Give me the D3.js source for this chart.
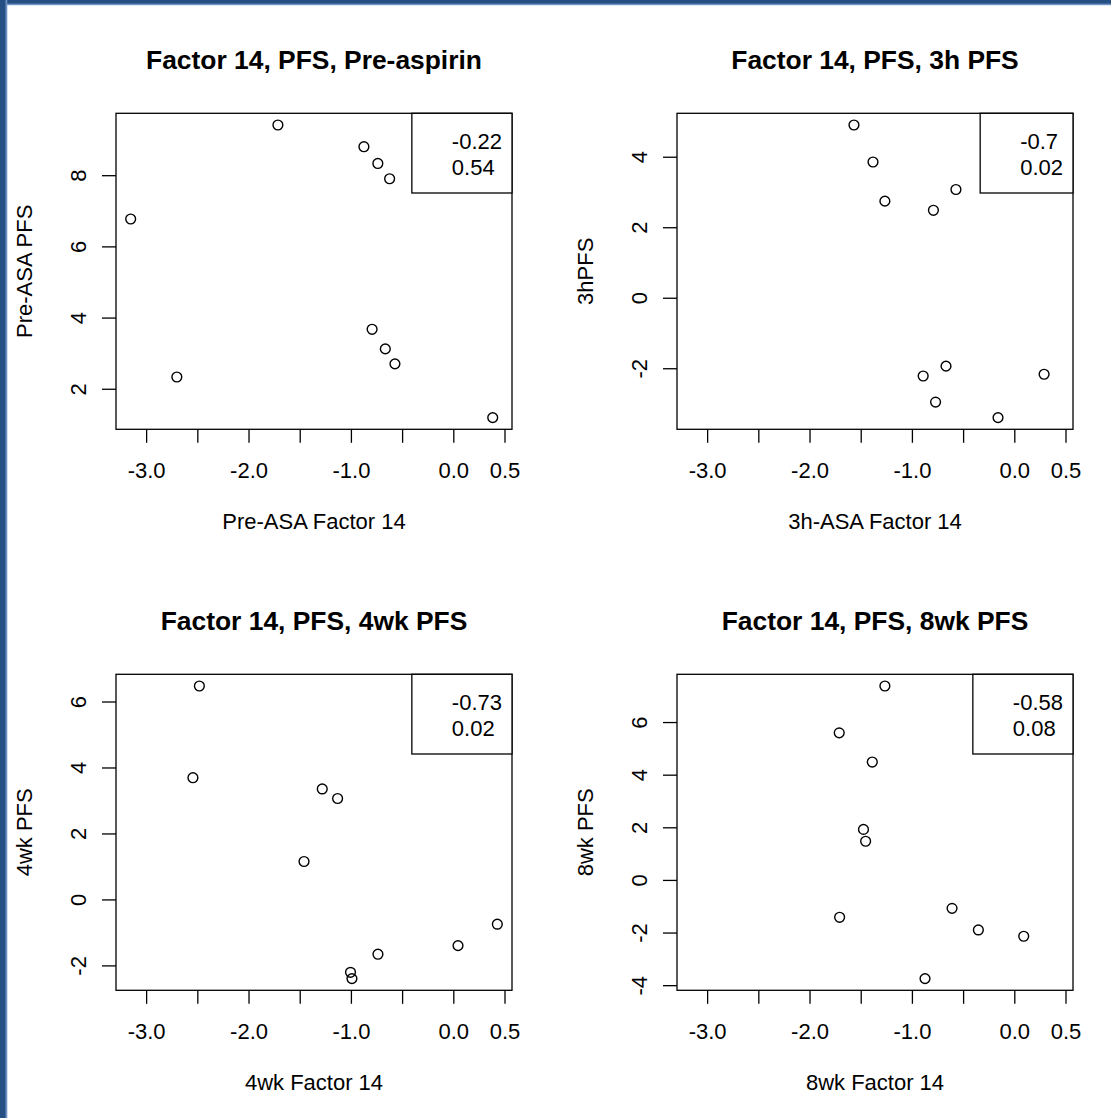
<!DOCTYPE html>
<html>
<head>
<meta charset="utf-8">
<script src="https://cdn.jsdelivr.net/npm/d3@7"></script>
<style>
  html, body { margin: 0; padding: 0; background: #fff; overflow: hidden; }
  text { font-family: "Liberation Sans", Arial, Helvetica, sans-serif; fill: #000; }
</style>
</head>
<body>
<svg id="chart" width="1111" height="1118"></svg>
<script>
// Factor 14 scores and PFS at each time point (one entry per subject)
const factorPre = [-3.151, -2.700, -1.713, -0.873, -0.737, -0.622, -0.793, -0.664, -0.570, 0.385];
const pfsPre    = [6.77, 2.33, 9.41, 8.80, 8.33, 7.90, 3.67, 3.12, 2.70, 1.19];
const factor3h  = [-1.566, -1.380, -1.264, -0.790, -0.570, -0.890, -0.667, -0.769, -0.159, 0.291];
const pfs3h     = [4.90, 3.85, 2.74, 2.48, 3.07, -2.22, -1.94, -2.96, -3.40, -2.17];
const factor4wk = [-2.480, -2.543, -1.280, -1.130, -1.458, -1.004, -0.990, -0.736, 0.046, 0.430];
const pfs4wk    = [6.47, 3.69, 3.35, 3.06, 1.15, -2.21, -2.40, -1.66, -1.40, -0.75];
const factor8wk = [-1.264, -1.710, -1.387, -1.473, -1.452, -1.706, -0.608, -0.351, 0.092, -0.872];
const pfs8wk    = [7.37, 5.59, 4.48, 1.92, 1.47, -1.42, -1.08, -1.90, -2.14, -3.75];

// Panel texts
const titles  = ["Factor 14, PFS, Pre-aspirin", "Factor 14, PFS, 3h PFS", "Factor 14, PFS, 4wk PFS", "Factor 14, PFS, 8wk PFS"];
const xTitles = ["Pre-ASA Factor 14", "3h-ASA Factor 14", "4wk Factor 14", "8wk Factor 14"];
const yTitles = ["Pre-ASA PFS", "3hPFS", "4wk PFS", "8wk PFS"];
const corrText = ["-0.22", "-0.7", "-0.73", "-0.58"];
const pText    = ["0.54", "0.02", "0.02", "0.08"];

// Tick values and labels
const xTicks = [-3, -2.5, -2, -1.5, -1, -0.5, 0, 0.5];
const xTickLabels = ["-3.0", "", "-2.0", "", "-1.0", "", "0.0", "0.5"];
const yTicks = [[2, 4, 6, 8], [-2, 0, 2, 4], [-2, 0, 2, 4, 6], [-4, -2, 0, 2, 4, 6]];

const xsets = [factorPre, factor3h, factor4wk, factor8wk];
const ysets = [pfsPre, pfs3h, pfs4wk, pfs8wk];

// Layout
const colX = [116, 677];
const rowY = [113.3, 674.3];
const plotW = 396, plotH = 316;
const lw = 1.3;
const fontSize = 22;

const svg = d3.select("#chart");

// Slide frame strips
svg.append("rect").attr("x", 0).attr("y", 0).attr("width", 1111).attr("height", 5.2).attr("fill", "#6d93c6");
svg.append("rect").attr("x", 0).attr("y", 0).attr("width", 1111).attr("height", 3.6).attr("fill", "#264f84");
svg.append("rect").attr("x", 0).attr("y", 0).attr("width", 7.3).attr("height", 1118).attr("fill", "#6d93c6");
svg.append("rect").attr("x", 0).attr("y", 0).attr("width", 5.5).attr("height", 1118).attr("fill", "#264f84");

// Axis range with 4% padding on each side
function padded(values) {
  const [lo, hi] = d3.extent(values);
  const d = (hi - lo) * 0.04;
  return [lo - d, hi + d];
}
const xDomain = padded([].concat(...xsets));

titles.forEach((title, i) => {
  const left = colX[i % 2];
  const top = rowY[Math.floor(i / 2)];
  const g = svg.append("g").attr("transform", `translate(${left},${top})`);

  const x = d3.scaleLinear().domain(xDomain).range([0, plotW]);
  const y = d3.scaleLinear().domain(padded(ysets[i])).range([plotH, 0]);

  // Bottom axis
  const xAxis = g.append("g")
    .attr("transform", `translate(0,${plotH})`)
    .call(d3.axisBottom(x).tickValues(xTicks).tickSize(13.5).tickSizeOuter(0)
      .tickFormat((d, k) => xTickLabels[k]));
  xAxis.select(".domain").remove();
  xAxis.selectAll(".tick line").attr("stroke", "#000").attr("stroke-width", lw);
  xAxis.selectAll(".tick text")
    .attr("y", 49).attr("dy", null)
    .attr("font-size", fontSize).attr("font-family", null);

  // Left axis with labels parallel to the axis (plain hyphen for negatives)
  const yAxis = g.append("g")
    .call(d3.axisLeft(y).tickValues(yTicks[i]).tickSize(14).tickSizeOuter(0).tickFormat(d => String(d)));
  yAxis.select(".domain").remove();
  yAxis.selectAll(".tick line").attr("stroke", "#000").attr("stroke-width", lw);
  yAxis.selectAll(".tick text")
    .attr("x", null).attr("dy", null)
    .attr("transform", "translate(-30,0) rotate(-90)")
    .attr("text-anchor", "middle")
    .attr("font-size", fontSize).attr("font-family", null);

  // Plot frame
  g.append("rect")
    .attr("x", 0).attr("y", 0).attr("width", plotW).attr("height", plotH)
    .attr("fill", "none").attr("stroke", "#000").attr("stroke-width", lw);

  // Points
  g.append("g").selectAll("circle")
    .data(xsets[i].map((v, k) => [v, ysets[i][k]]))
    .join("circle")
    .attr("cx", d => x(d[0]))
    .attr("cy", d => y(d[1]))
    .attr("r", 4.9)
    .attr("fill", "none")
    .attr("stroke", "#000")
    .attr("stroke-width", 1.4);

  // Title and axis titles
  g.append("text")
    .attr("x", plotW / 2).attr("y", -44)
    .attr("text-anchor", "middle")
    .attr("font-size", fontSize * 1.2).attr("font-weight", "bold")
    .text(title);
  g.append("text")
    .attr("x", plotW / 2).attr("y", plotH + 100)
    .attr("text-anchor", "middle")
    .attr("font-size", fontSize)
    .text(xTitles[i]);
  g.append("text")
    .attr("transform", `translate(-84,${plotH / 2}) rotate(-90)`)
    .attr("text-anchor", "middle")
    .attr("font-size", fontSize)
    .text(yTitles[i]);

  // Correlation legend in the top-right corner
  const leg = g.append("g");
  const lines = [corrText[i], pText[i]];
  const texts = leg.selectAll("text").data(lines).join("text")
    .attr("font-size", fontSize)
    .attr("y", (d, k) => 35.5 + k * 26.6)
    .text(d => d);
  let maxW = 0;
  texts.each(function () { maxW = Math.max(maxW, this.getComputedTextLength()); });
  const legW = 40 + maxW + 10;
  const legX = plotW - legW;
  texts.attr("x", legX + 40);
  leg.insert("rect", "text")
    .attr("x", legX).attr("y", 0).attr("width", legW).attr("height", 79.7)
    .attr("fill", "#fff").attr("stroke", "#000").attr("stroke-width", lw);
});
</script>
</body>
</html>
